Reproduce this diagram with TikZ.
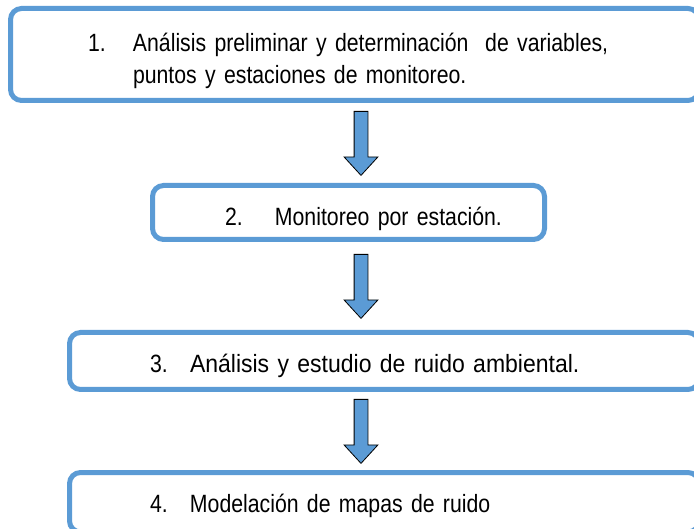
\documentclass[tikz,border=0pt]{standalone}
\usepackage{fontspec}
\setmainfont{Liberation Sans}[FakeStretch=0.85,WordSpace=0.9]
\newfontfamily\anchafont{Liberation Sans}[FakeStretch=0.92,WordSpace=0.9]
\usepackage{tikz}
\usetikzlibrary{%
  calc,arrows.meta,shapes,%
  shapes.arrows}
\tikzset {>=Stealth}
\definecolor{boxblue}{HTML}{5B9BD5}
\newcommand{\altura}[2]{\rule[-#2pt]{0pt}{#1pt}}
\tikzset{
  paso/.style={draw=boxblue, line width=5pt, rounded corners=11pt,
    align=left, inner ysep=0pt, font=\fontsize{25}{32}\selectfont},
  bloque/.style={single arrow, draw=black, line width=0.8pt, fill=boxblue,
    rotate=-90, inner xsep=0pt, inner ysep=6.5pt, minimum height=64pt,
    single arrow head extend=10pt, single arrow tip angle=85}
}

\begin{document}
\begin{tikzpicture}[x=1pt,y=-1pt]
\useasboundingbox (0,0) rectangle (694,529);
\node[paso, minimum height=92pt, inner xsep=77.5pt, text width=533.5pt]
  (p1) at (354.75,54.5)
  {\mbox{\altura{37}{5}\makebox[45pt][l]{1.}Análisis preliminar y determinación\ \ de variables,}\\
   \mbox{\altura{10}{5}\hspace*{45pt}puntos y estaciones de monitoreo.}};
\node[paso, minimum height=54pt, inner xsep=72.5pt, text width=247pt]
  (p2) at (348.5,212.5) {\mbox{\altura{36}{5}\makebox[50pt][l]{2.}Monitoreo por estación.}};
\node[paso, minimum height=57pt, inner xsep=80.5pt, text width=468.5pt]
  (p3) at (384.25,361) {\mbox{\altura{33}{5}\makebox[40pt][l]{3.}\anchafont Análisis y estudio de ruido ambiental.}};
\node[paso, minimum height=59.5pt, inner xsep=80.5pt, text width=468.5pt]
  (p4) at (384.25,502.25) {\mbox{\altura{31}{5.5}\makebox[40pt][l]{4.}Modelación de mapas de ruido}};
% flechas entre pasos
\node[bloque, anchor=tail] (f1) at ($(p1.south)+(6.25,8)$) {};
\node[bloque, anchor=tail] (f2) at ($(p2.south)+(12.5,12)$) {};
\node[bloque, anchor=tail] (f3) at ($(p3.south)+(-23.25,7)$) {};
\end{tikzpicture}
\end{document}
